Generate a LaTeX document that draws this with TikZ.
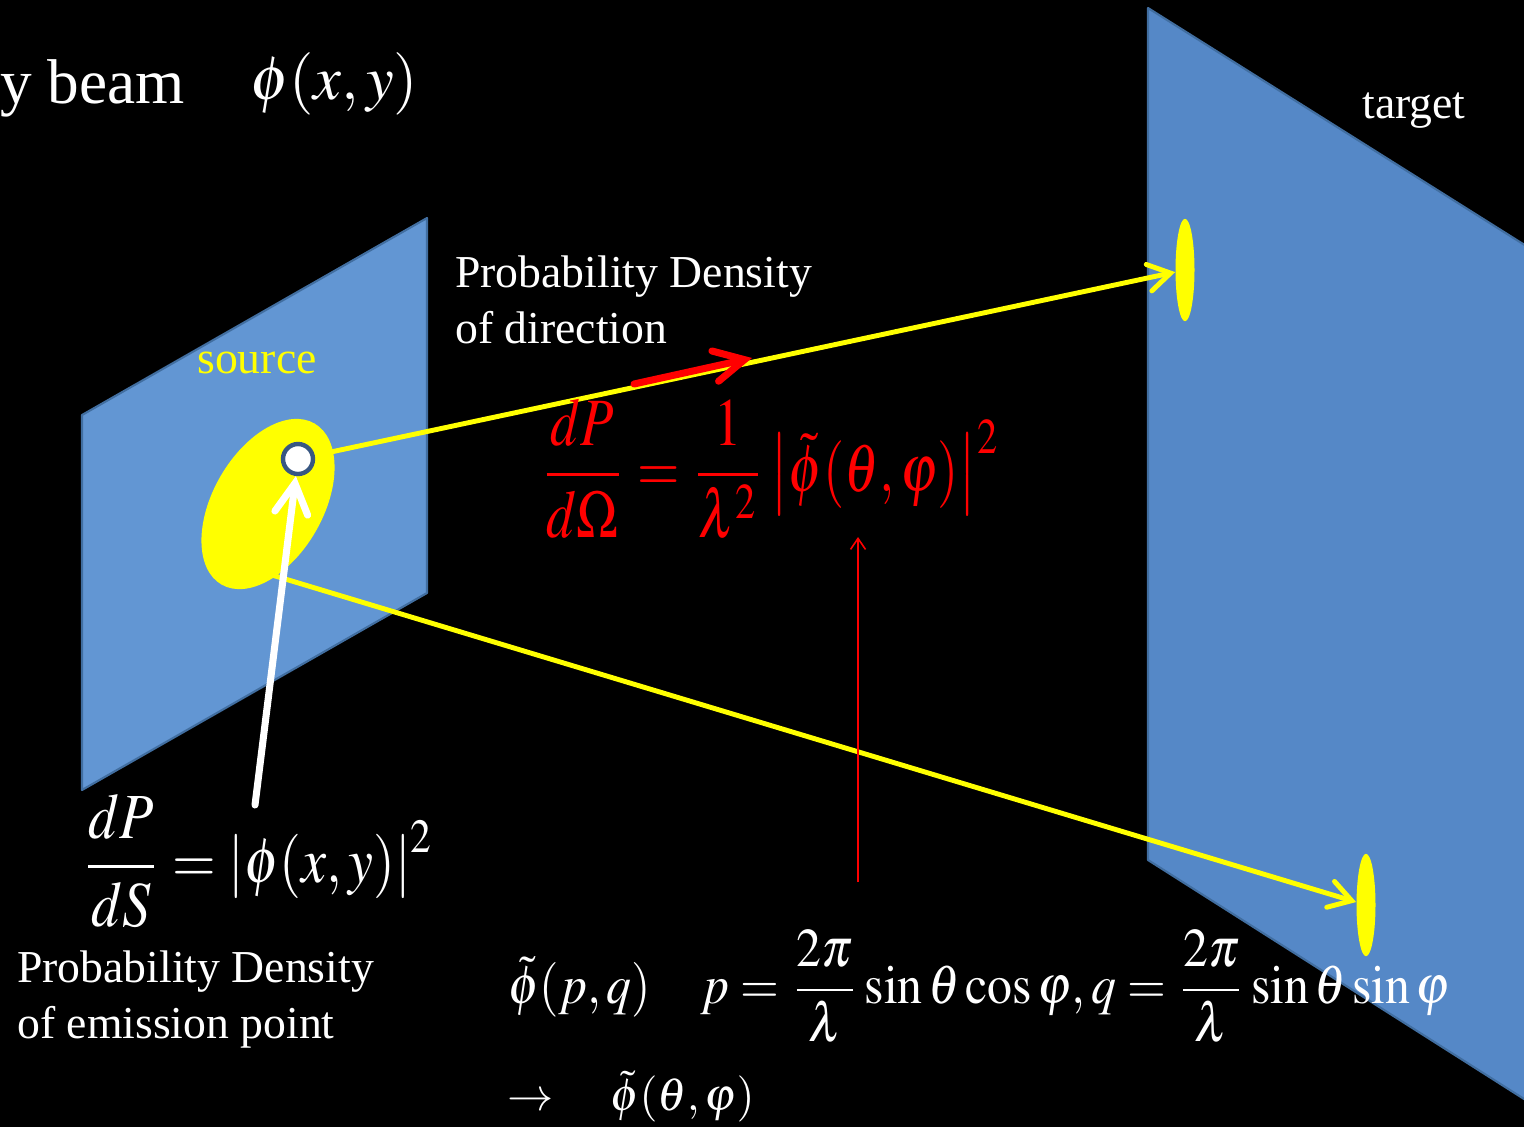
\documentclass[tikz,border=0pt]{standalone}
\usepackage{mathptmx}
\usepackage{fontspec}
\setmainfont{Liberation Serif}
\usepackage{graphicx}
\usetikzlibrary{arrows.meta,shapes.geometric}
\definecolor{srcblue}{RGB}{98,150,211}
\definecolor{tgtblue}{RGB}{85,136,199}
\definecolor{edgeblue}{RGB}{65,110,160}
\definecolor{ringblue}{RGB}{56,87,130}
\definecolor{beamyellow}{RGB}{255,255,0}
\definecolor{formred}{RGB}{255,0,0}
\tikzset{
  panel/.style={draw=edgeblue, line width=1.2pt, line join=round},
  ray/.style={draw=beamyellow, line width=2.8pt, line cap=round,
    -{Straight Barb[length=0.44cm, width=0.54cm, line cap=round]}},
  redarrow/.style={draw=formred, line width=4pt, line cap=round,
    -{Straight Barb[length=0.6cm, width=0.62cm, line cap=round]}},
  whitearrow/.style={draw=white, line width=4pt, line cap=round,
    -{Straight Barb[length=0.6cm, width=0.66cm, line cap=round]}},
  thinarrow/.style={draw=formred, line width=0.9pt,
    -{Straight Barb[length=0.22cm, width=0.3cm]}},
  spot/.style={ellipse, fill=beamyellow, inner sep=0pt, minimum width=0.38cm, minimum height=2.05cm},
  emitpt/.style={circle, fill=white, draw=ringblue, line width=2.5pt, inner sep=0pt, minimum size=0.6cm},
  txt/.style={text=white, inner sep=0pt, font=\fontsize{26}{31}\selectfont},
  formula/.style={inner sep=0pt},
}
\begin{document}
\begin{tikzpicture}[x=0.02cm, y=-0.02cm]
\fill[black] (0,0) rectangle (1524,1127);
\useasboundingbox (0,0) rectangle (1524,1127);
\clip (0,0) rectangle (1524,1127);
% panels
\filldraw[panel, fill=srcblue] (82,415) -- (427,218) -- (427,593) -- (82,790) -- cycle;
\filldraw[panel, fill=tgtblue] (1148,8) -- (1620,305) -- (1620,1160) -- (1148,860) -- cycle;
% emission area
\fill[beamyellow, rotate around={-30:(268,504)}] (268,504) ellipse [x radius=55, y radius=93];
% spots
\node[spot] (spotA) at (1185,270) {};
\node[spot] (spotB) at (1366,905) {};
\coordinate (emitB) at (262,572);
\coordinate (emitC) at (298,459);
% rays
\draw[ray] (emitC) -- (spotA);
\draw[ray] (emitB) -- (spotB);
\node[emitpt] (emit) at (298,459) {};
% red direction arrow
\coordinate (dirA) at (634,384);
\coordinate (dirB) at (752,358);
\draw[redarrow] (dirA) -- (dirB);
% white arrow
\coordinate (dsfoot) at (255,805);
\draw[whitearrow] (dsfoot) -- (emit);
% thin red arrow
\coordinate (thinfoot) at (858,882);
\coordinate (thintip) at (858,537);
\draw[thinarrow] (thinfoot) -- (thintip);
% texts
\node[txt, anchor=base east, font=\fontsize{36}{42}\selectfont] (beam) at (185,103) {y beam};
\node[formula, text=white] (phixy) at (334,84) {\resizebox{3.36cm}{!}{$\phi(x,y)$}};
\node[txt, anchor=base west] (target) at (1362,118) {target};
\node[txt, anchor=base west, text=beamyellow] (source) at (197,373) {source};
\node[txt, anchor=base west] (pd1) at (455,287) {Probability Density};
\node[txt, anchor=base west] (pd2) at (455,343) {of direction};
\node[formula, text=formred] (redf) at (770,469)
  {\resizebox*{9.2cm}{2.8cm}{$\displaystyle \frac{dP}{d\Omega}=\frac{1}{\lambda^{2}}\left|\tilde{\phi}(\theta,\varphi)\right|^{2}$}};
\node[formula, text=white] (dsf) at (258,861)
  {\resizebox*{7.06cm}{2.66cm}{$\displaystyle \frac{dP}{dS}=\left|\phi(x,y)\right|^{2}$}};
\node[txt, anchor=base west] (pe1) at (17,982) {Probability Density};
\node[txt, anchor=base west] (pe2) at (17,1038) {of emission point};
\node[formula, text=white] (pq) at (979,986)
  {\resizebox*{18.84cm}{2.24cm}{$\displaystyle \tilde{\phi}(p,q)\quad p=\frac{2\pi}{\lambda}\sin\theta\cos\varphi, q=\frac{2\pi}{\lambda}\sin\theta\sin\varphi$}};
\node[formula, text=white] (arr) at (631,1097)
  {\resizebox{4.94cm}{!}{$\rightarrow\quad\tilde{\phi}(\theta,\varphi)$}};
\end{tikzpicture}
\end{document}
